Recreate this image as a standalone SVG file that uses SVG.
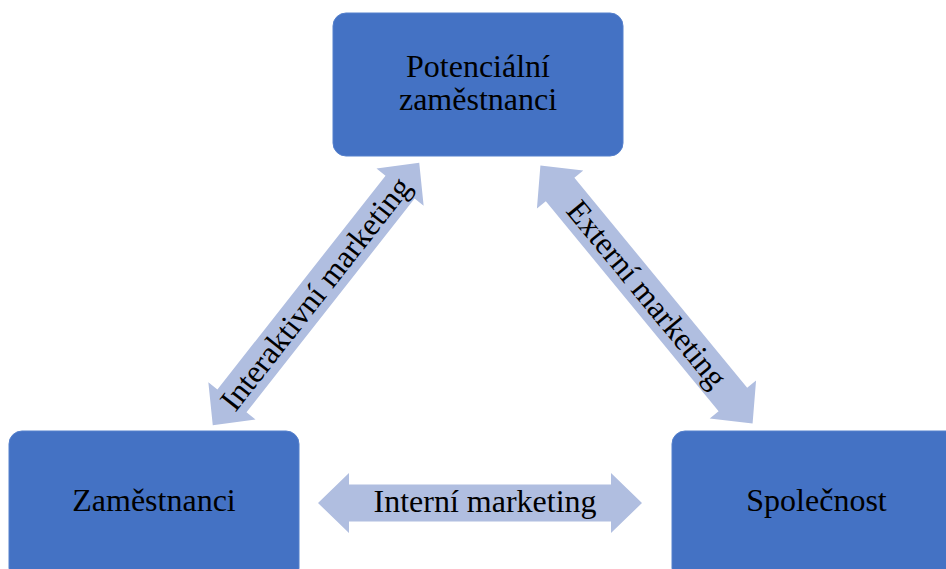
<svg xmlns="http://www.w3.org/2000/svg" width="946" height="569" viewBox="0 0 946 569">
<style>
.box{fill:#4472C4;stroke:#5580CC;stroke-width:1}
.arr{fill:#B0BEE0}
.t{font-family:"Liberation Serif","Times New Roman",serif;font-size:32px;fill:#000;text-anchor:middle}
</style>
<rect width="946" height="569" fill="#fff"/>
<g id="connectors">
<g id="c-interaktivni" transform="translate(316,294) rotate(-51.82)">
<polygon class="arr" points="-167,0 -136,-30 -136,-18.5 136,-18.5 136,-30 167,0 136,30 136,18.5 -136,18.5 -136,30"/>
<text class="t" x="0" y="10">Interaktivní marketing</text>
</g>
<g id="c-externi" transform="translate(646.5,294.5) rotate(50.56)">
<polygon class="arr" points="-167,0 -136,-30 -136,-18.5 136,-18.5 136,-30 167,0 136,30 136,18.5 -136,18.5 -136,30"/>
<text class="t" x="0" y="10">Externí marketing</text>
</g>
<g id="c-interni" transform="translate(480,503)">
<polygon class="arr" points="-162,0 -131,-30 -131,-18.5 131,-18.5 131,-30 162,0 131,30 131,18.5 -131,18.5 -131,30"/>
<text class="t" x="5" y="9">Interní marketing</text>
</g>
</g>
<g id="n-potencialni">
<rect class="box" x="333" y="13" width="290" height="143" rx="13"/>
<text class="t" x="478" y="77">Potenciální</text>
<text class="t" x="478" y="110">zaměstnanci</text>
</g>
<g id="n-zamestnanci">
<rect class="box" x="9" y="431" width="290" height="150" rx="13"/>
<text class="t" x="154" y="511">Zaměstnanci</text>
</g>
<g id="n-spolecnost">
<rect class="box" x="672" y="431" width="290" height="150" rx="13"/>
<text class="t" x="816.5" y="511">Společnost</text>
</g>
</svg>
